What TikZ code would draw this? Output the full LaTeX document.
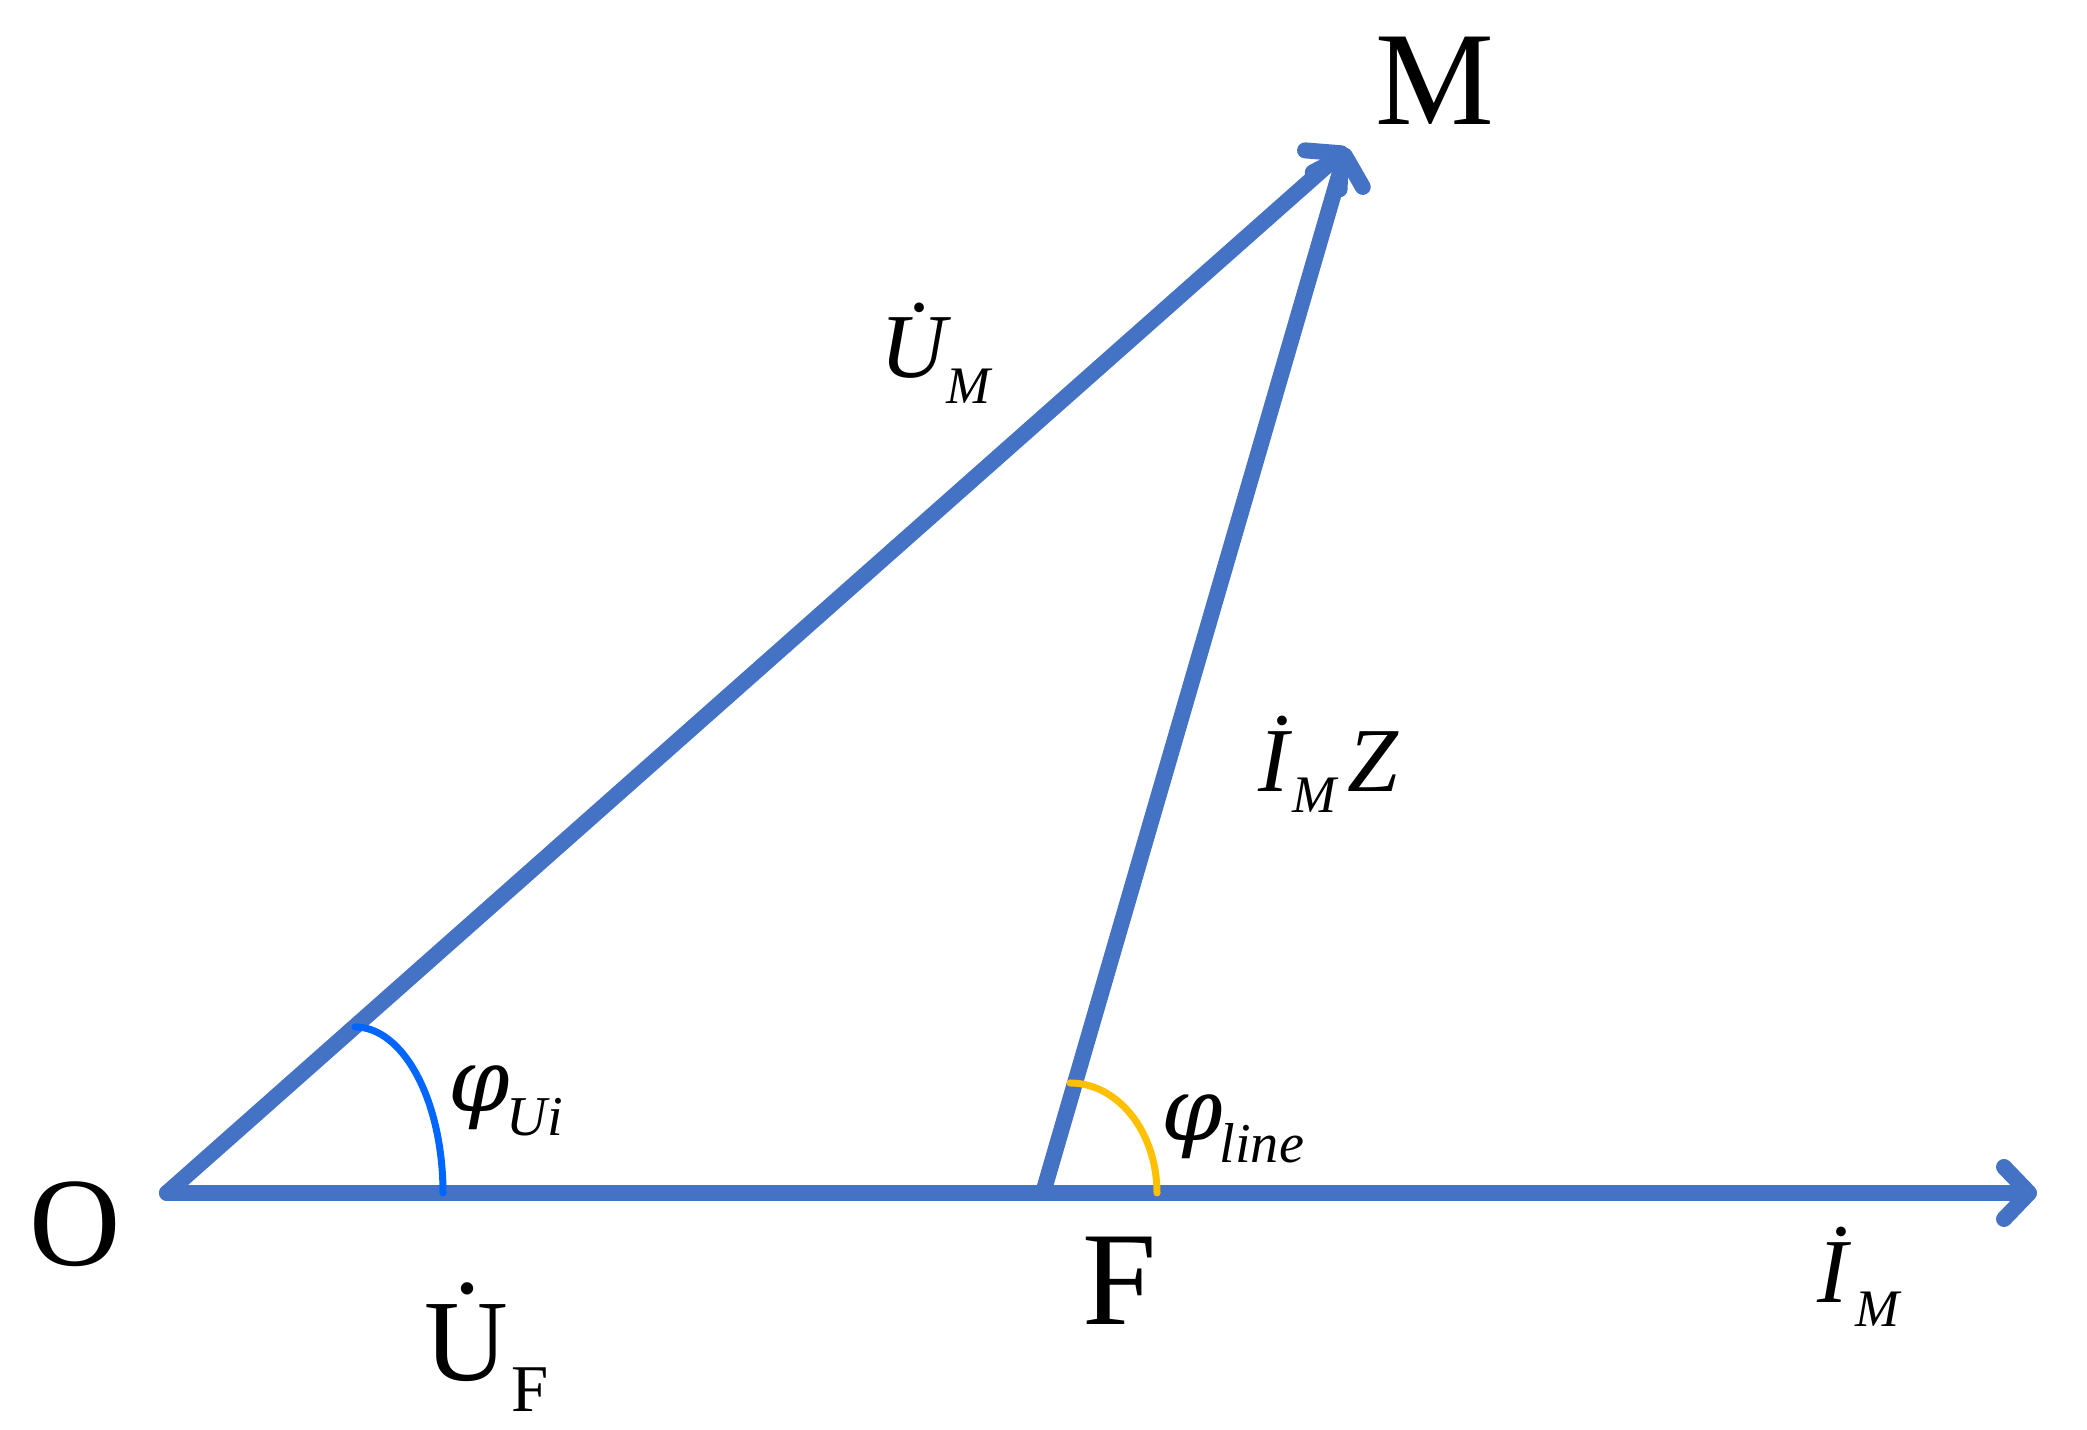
\documentclass[tikz,border=0pt]{standalone}
\usepackage{fontspec}
\setmainfont{Liberation Serif}
\newfontfamily\greekfont{DejaVu Serif}
\usetikzlibrary{arrows.meta}
\definecolor{phasor}{HTML}{4472C4}
\definecolor{arcblue}{HTML}{0066FF}
\definecolor{arcgold}{HTML}{FFC000}
\newcommand{\fs}[1]{\fontsize{#1}{#1}\selectfont}
\newcommand{\lowsub}[3]{\raisebox{-#1}{\fs{#2}#3}}
\newcommand{\bigphi}{{\greekfont\itshape\fs{25}φ}}

\begin{document}
\begin{tikzpicture}[x=1cm, y=1cm,
    vector line/.style={line width=0.16cm, draw=phasor, line cap=round, line join=round,
        -{Straight Barb[length=0.25cm, width=0.52cm, round]}},
    angle arc/.style={line width=0.07cm, line cap=round},
    big label/.style={inner sep=0pt, anchor=base},
    var label/.style={inner sep=0pt, anchor=base west, font=\itshape}]

    \useasboundingbox (0,0) rectangle (20.87,14.30);

    % Points of the triangle
    \coordinate (O) at (1.67,2.37);
    \coordinate (F) at (10.43,2.37);
    \coordinate (M) at (13.47,12.82);
    \coordinate (Iend) at (20.37,2.37);

    % Phasors
    \draw[vector line] (O) -- (Iend);
    \draw[vector line] (O) -- (M);
    \draw[vector line] (F) -- (M);

    % Angles
    \draw[angle arc, arcblue] (4.43,2.37) arc[start angle=0, end angle=90, x radius=0.88, y radius=1.66];
    \draw[angle arc, arcgold] (11.57,2.37) arc[start angle=0, end angle=90, x radius=0.87, y radius=1.10];

    % Point names
    \node[big label, font=\fs{38}] (Mlabel) at (14.35,13.05) {M};
    \node[big label, font=\fs{36}] (Olabel) at (0.75,1.64) {O};
    \node[big label, font=\fs{38}] (Flabel) at (11.20,1.05) {F};

    % Phasor labels
    \node[inner sep=0pt, anchor=base west] (UF) at (4.24,0.49)
        {\fs{33}\.{U}\kern1pt\lowsub{0.31cm}{19}{F}};
    \node[var label] (UM) at (8.80,10.52)
        {\fs{26}\.{U}\lowsub{0.26cm}{15}{M}};
    \node[var label] (IMZ) at (12.58,6.38)
        {\fs{26}\.{I}\kern1pt\lowsub{0.21cm}{15}{M}\kern3pt Z};
    \node[var label] (IM) at (18.17,1.27)
        {\fs{26}\.{I}\kern2pt\lowsub{0.24cm}{15}{M}};
    \node[var label] (phiU) at (4.48,3.18)
        {\bigphi\kern-1pt\lowsub{0.24cm}{16}{Ui}};
    \node[var label] (phiL) at (11.61,2.89)
        {\bigphi\kern-1pt\lowsub{0.22cm}{16}{line}};

\end{tikzpicture}
\end{document}
